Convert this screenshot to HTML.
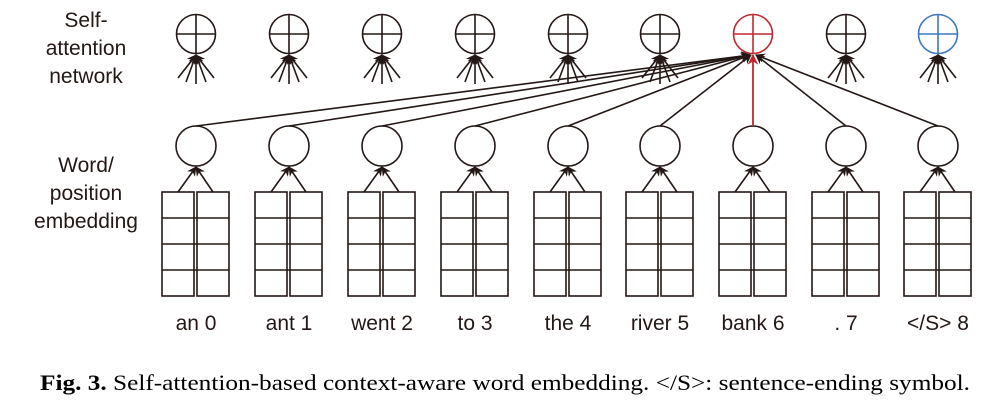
<!DOCTYPE html>
<html><head><meta charset="utf-8"><style>
html,body{margin:0;padding:0;background:#fff;width:987px;height:403px;overflow:hidden}
</style></head><body>
<svg width="987" height="403" viewBox="0 0 987 403" xmlns="http://www.w3.org/2000/svg">
<defs>
<marker id="ah" viewBox="0 0 10 10" refX="9" refY="5" markerWidth="6" markerHeight="6" orient="auto"><path d="M0,0 L10,5 L0,10 L3,5 z" fill="#231815"/></marker>
<marker id="ahr" viewBox="0 0 10 10" refX="9" refY="5" markerWidth="6" markerHeight="6" orient="auto"><path d="M0,0 L10,5 L0,10 L3,5 z" fill="#c0282d"/></marker>
<g id="fan" stroke="#231815" stroke-width="1.6" fill="none">
<line x1="-18" y1="78" x2="0" y2="55" marker-end="url(#ah)"/>
<line x1="-10" y1="82" x2="0" y2="55" marker-end="url(#ah)"/>
<line x1="0" y1="84" x2="0" y2="55" marker-end="url(#ah)"/>
<line x1="10" y1="82" x2="0" y2="55" marker-end="url(#ah)"/>
<line x1="18" y1="78" x2="0" y2="55" marker-end="url(#ah)"/>
</g>
<g id="tc" fill="none" stroke-width="1.6">
<circle cx="0" cy="34" r="19.5"/><line x1="-19.5" y1="34" x2="19.5" y2="34"/><line x1="0" y1="14.5" x2="0" y2="53.5"/>
</g>
<g id="low" stroke="#231815" stroke-width="1.6" fill="none">
<circle cx="0" cy="146" r="20"/>
<line x1="-18" y1="192" x2="0" y2="167" marker-end="url(#ah)"/>
<line x1="17" y1="192" x2="0" y2="167" marker-end="url(#ah)"/>
<rect x="-34" y="192" width="32" height="104"/>
<rect x="1" y="192" width="32" height="104"/>
<line x1="-34" y1="218" x2="33" y2="218"/>
<line x1="-34" y1="244" x2="33" y2="244"/>
<line x1="-34" y1="270" x2="33" y2="270"/>
</g>
</defs>
<g font-family="Liberation Sans, sans-serif" font-size="21" fill="#231815" text-anchor="middle">
<text x="86" y="27">Self-</text><text x="86" y="55">attention</text><text x="86" y="83">network</text>
<text x="86" y="172">Word/</text><text x="86" y="200">position</text><text x="86" y="228">embedding</text>
<text x="196" y="330">an 0</text><text x="289" y="330">ant 1</text><text x="382" y="330">went 2</text>
<text x="475" y="330">to 3</text><text x="568" y="330">the 4</text><text x="660" y="330">river 5</text>
<text x="753" y="330">bank 6</text><text x="846" y="330">. 7</text><text x="938" y="330">&lt;/S&gt; 8</text>
</g>
<use href="#tc" x="196" stroke="#231815"/><use href="#fan" x="196"/><use href="#low" x="196"/>
<use href="#tc" x="289" stroke="#231815"/><use href="#fan" x="289"/><use href="#low" x="289"/>
<use href="#tc" x="382" stroke="#231815"/><use href="#fan" x="382"/><use href="#low" x="382"/>
<use href="#tc" x="475" stroke="#231815"/><use href="#fan" x="475"/><use href="#low" x="475"/>
<use href="#tc" x="568" stroke="#231815"/><use href="#fan" x="568"/><use href="#low" x="568"/>
<use href="#tc" x="660" stroke="#231815"/><use href="#fan" x="660"/><use href="#low" x="660"/>
<use href="#tc" x="753" stroke="#c0282d"/><use href="#low" x="753"/>
<use href="#tc" x="846" stroke="#231815"/><use href="#fan" x="846"/><use href="#low" x="846"/>
<use href="#tc" x="938" stroke="#3f77c0"/><use href="#fan" x="938"/><use href="#low" x="938"/>
<g stroke="#231815" stroke-width="1.6">
<line x1="196" y1="126" x2="750" y2="55" marker-end="url(#ah)"/>
<line x1="289" y1="126" x2="750" y2="55" marker-end="url(#ah)"/>
<line x1="382" y1="126" x2="750" y2="55" marker-end="url(#ah)"/>
<line x1="475" y1="126" x2="750" y2="55" marker-end="url(#ah)"/>
<line x1="568" y1="126" x2="750" y2="55" marker-end="url(#ah)"/>
<line x1="660" y1="126" x2="751" y2="55" marker-end="url(#ah)"/>
<line x1="846" y1="126" x2="756" y2="55" marker-end="url(#ah)"/>
<line x1="938" y1="126" x2="756" y2="55" marker-end="url(#ah)"/>
</g>
<line x1="753" y1="126" x2="753" y2="55" stroke="#c0282d" stroke-width="1.8" marker-end="url(#ahr)"/>
<text x="40" y="390" font-family="Liberation Serif, serif" font-size="22" fill="#000" textLength="930" lengthAdjust="spacingAndGlyphs"><tspan font-weight="bold">Fig. 3.</tspan> Self-attention-based context-aware word embedding. &lt;/S&gt;: sentence-ending symbol.</text>
</svg>
</body></html>
